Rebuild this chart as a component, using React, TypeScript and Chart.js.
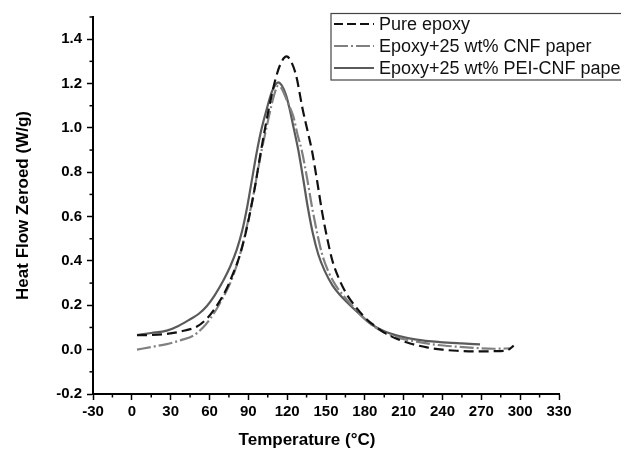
import React, { useEffect, useRef } from 'react';
import { Chart, registerables } from 'chart.js';

Chart.register(...registerables);

// ---- Data ----
const seriesLabels = ['Pure epoxy', 'Epoxy+25 wt% CNF paper', 'Epoxy+25 wt% PEI-CNF paper'];

const pureT = [4, 15, 27, 40, 50, 58, 63, 68, 73, 78, 82, 86, 90, 95, 99, 103, 107, 111, 115, 119.5, 123, 127, 132, 136, 139, 143, 147, 151, 155, 160, 166, 172, 180, 187, 195, 205, 215, 228, 240, 251, 265, 280, 290, 295];
const pureV = [0.065, 0.066, 0.071, 0.085, 0.103, 0.14, 0.176, 0.22, 0.272, 0.34, 0.4, 0.48, 0.58, 0.73, 0.87, 1.0, 1.12, 1.22, 1.29, 1.322, 1.3, 1.234, 1.083, 0.98, 0.902, 0.766, 0.62, 0.5, 0.4, 0.32, 0.25, 0.2, 0.145, 0.11, 0.077, 0.048, 0.028, 0.01, 0.0, -0.005, -0.008, -0.007, -0.003, 0.018];

const cnfT = [4, 15, 27, 38, 47.5, 55, 63, 70, 76, 81, 85, 89, 93, 96.5, 100.3, 104, 107, 110, 113, 116, 120, 124.7, 128, 131.2, 135.6, 139, 143, 147, 152, 158, 164, 170, 178, 187, 197, 207, 220, 235, 250, 265, 280, 293];
const cnfV = [0.0, 0.012, 0.025, 0.043, 0.063, 0.1, 0.16, 0.23, 0.3, 0.38, 0.46, 0.56, 0.67, 0.78, 0.9, 1.0, 1.08, 1.15, 1.19, 1.175, 1.12, 1.053, 0.97, 0.9, 0.766, 0.65, 0.53, 0.43, 0.35, 0.285, 0.24, 0.2, 0.15, 0.105, 0.072, 0.052, 0.036, 0.022, 0.014, 0.008, 0.004, 0.006];

const peiT = [4, 15, 27, 36, 45, 52, 58, 64, 71, 76, 81, 85, 89, 92.6, 96.5, 100, 104, 108, 111, 113, 116, 119, 122, 125, 128.6, 132.5, 136, 140, 144, 149, 155, 161, 166, 175, 184, 195, 205, 220, 238, 255, 269];
const peiV = [0.066, 0.075, 0.086, 0.107, 0.137, 0.163, 0.197, 0.245, 0.315, 0.375, 0.45, 0.53, 0.64, 0.76, 0.89, 0.99, 1.08, 1.16, 1.195, 1.205, 1.19, 1.15, 1.083, 1.0, 0.9, 0.766, 0.64, 0.52, 0.43, 0.355, 0.29, 0.245, 0.215, 0.165, 0.118, 0.083, 0.063, 0.045, 0.034, 0.028, 0.024];

const xMinorTicks = [-15, 15, 45, 75, 105, 135, 165, 195, 225, 255, 285, 315];
const yMinorTicks = [-0.1, 0.1, 0.3, 0.5, 0.7, 0.9, 1.1, 1.3, 1.5];

const xTitle = 'Temperature (°C)';
const yTitle = 'Heat Flow Zeroed (W/g)';

const FONT = "'Liberation Sans', Arial, Helvetica, sans-serif";

const toPoints = (t: number[], v: number[]) => t.map((x, i) => ({ x, y: v[i] }));

const minorTickPlugin = {
  id: 'minorTicks',
  afterDraw(chart: any) {
    const { ctx, scales, chartArea } = chart;
    ctx.save();
    ctx.strokeStyle = '#000';
    ctx.lineWidth = 1.5;
    xMinorTicks.forEach((v) => {
      const px = scales.x.getPixelForValue(v);
      ctx.beginPath();
      ctx.moveTo(px, chartArea.bottom);
      ctx.lineTo(px, chartArea.bottom + 3.5);
      ctx.stroke();
    });
    yMinorTicks.forEach((v) => {
      const py = scales.y.getPixelForValue(v);
      ctx.beginPath();
      ctx.moveTo(chartArea.left, py);
      ctx.lineTo(chartArea.left - 3.5, py);
      ctx.stroke();
    });
    // x-axis title
    ctx.fillStyle = '#000';
    ctx.font = `bold 17px ${FONT}`;
    ctx.textAlign = 'center';
    ctx.textBaseline = 'middle';
    ctx.fillText(xTitle, 307, 440);
    ctx.restore();
  },
};

const legendPlugin = {
  id: 'boxLegend',
  afterDraw(chart: any) {
    const { ctx } = chart;
    ctx.save();
    ctx.strokeStyle = '#444';
    ctx.lineWidth = 1.2;
    ctx.strokeRect(331, 13.5, 320, 66.5);
    chart.data.datasets.forEach((ds: any, i: number) => {
      const cy = 24 + i * 22;
      ctx.setLineDash(ds.legendDash || []);
      ctx.strokeStyle = ds.borderColor;
      ctx.lineWidth = 2;
      ctx.beginPath();
      ctx.moveTo(334, cy);
      ctx.lineTo(374, cy);
      ctx.stroke();
      ctx.setLineDash([]);
      ctx.fillStyle = '#111';
      ctx.font = `18px ${FONT}`;
      ctx.textAlign = 'left';
      ctx.textBaseline = 'middle';
      ctx.fillText(ds.label, 379, cy + 1);
    });
    ctx.restore();
  },
};

export default function App() {
  const canvasRef = useRef<HTMLCanvasElement | null>(null);

  useEffect(() => {
    if (!canvasRef.current) return;
    const tickFont = { family: FONT, size: 15, weight: 'bold' as const };
    const chart = new Chart(canvasRef.current, {
      type: 'line',
      data: {
        datasets: [
          {
            label: seriesLabels[0],
            data: toPoints(pureT, pureV),
            borderColor: '#111',
            borderWidth: 2.2,
            borderDash: [10, 5],
            legendDash: [9, 4],
            pointRadius: 0,
            fill: false,
            cubicInterpolationMode: 'monotone',
          } as any,
          {
            label: seriesLabels[1],
            data: toPoints(cnfT, cnfV),
            borderColor: '#808080',
            borderWidth: 2.2,
            borderDash: [14, 3, 2, 3],
            legendDash: [14, 3, 2, 3],
            pointRadius: 0,
            fill: false,
            cubicInterpolationMode: 'monotone',
          } as any,
          {
            label: seriesLabels[2],
            data: toPoints(peiT, peiV),
            borderColor: '#5a5a5a',
            borderWidth: 2.2,
            pointRadius: 0,
            fill: false,
            cubicInterpolationMode: 'monotone',
          } as any,
        ],
      },
      options: {
        animation: false,
        responsive: false,
        devicePixelRatio: 1,
        layout: { padding: { top: 17, right: 62, left: 0, bottom: 0 } },
        plugins: { legend: { display: false }, tooltip: { enabled: false } },
        scales: {
          x: {
            type: 'linear',
            min: -30,
            max: 330,
            ticks: {
              stepSize: 30,
              includeBounds: false,
              autoSkip: false,
              maxRotation: 0,
              color: '#000',
              font: tickFont,
              padding: 3,
            },
            grid: { drawOnChartArea: false, drawTicks: true, tickLength: 6, tickColor: '#000', tickWidth: 1.5 },
            border: { display: true, color: '#000', width: 2 },
            afterFit: (s: any) => { s.height = 60; },
          },
          y: {
            type: 'linear',
            min: -0.2,
            max: 1.5,
            ticks: {
              stepSize: 0.2,
              includeBounds: false,
              autoSkip: false,
              color: '#000',
              font: tickFont,
              padding: 5,
              callback: (v: any) => Number(v).toFixed(1),
            },
            grid: { drawOnChartArea: false, drawTicks: true, tickLength: 6, tickColor: '#000', tickWidth: 1.5 },
            border: { display: true, color: '#000', width: 2 },
            title: {
              display: true,
              text: yTitle,
              color: '#000',
              font: { family: FONT, size: 17, weight: 'bold' },
              padding: { top: 13, bottom: 0 },
            },
            afterFit: (s: any) => { s.width = 93; },
          },
        },
      } as any,
      plugins: [minorTickPlugin, legendPlugin],
    });
    return () => chart.destroy();
  }, []);

  return (
    <div style={{ position: 'fixed', left: 0, top: 0, width: 621, height: 454, background: '#fff' }}>
      <canvas ref={canvasRef} width={621} height={454} />
    </div>
  );
}
